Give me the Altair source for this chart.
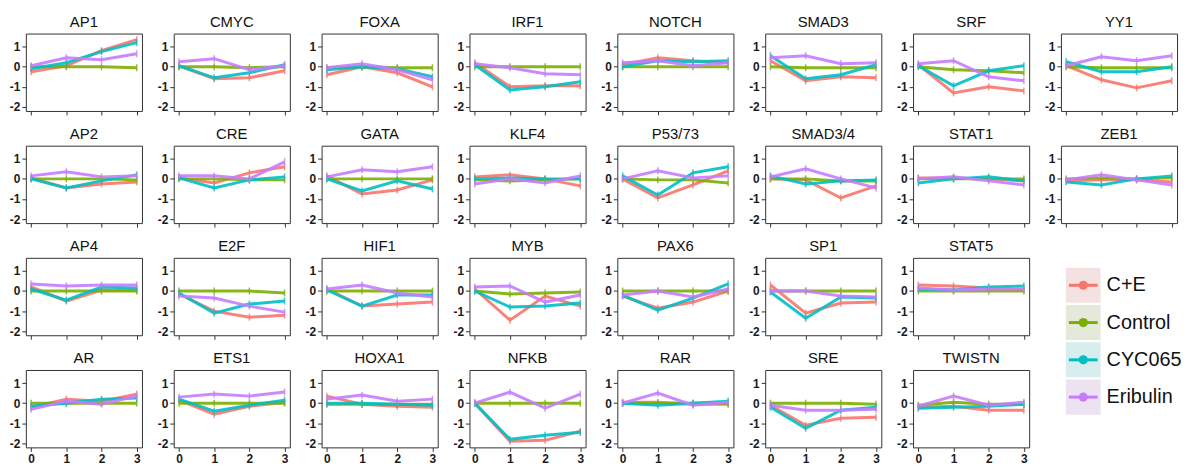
import altair as alt
import pandas as pd

TIMES = [0, 1, 2, 3]
TREATMENTS = ["C+E", "Control", "CYC065", "Eribulin"]
LINE_COLORS = ["#F8766D", "#7CAE00", "#00BFC4", "#C77CFF"]
KEY_FILLS = ["#f3e2e1", "#e5e9da", "#d8eded", "#ece2f2"]
Y_TICKS = [-2, -1, 0, 1]

GRID_COLUMNS = [
    ["AP1", "AP2", "AP4", "AR"],
    ["CMYC", "CRE", "E2F", "ETS1"],
    ["FOXA", "GATA", "HIF1", "HOXA1"],
    ["IRF1", "KLF4", "MYB", "NFKB"],
    ["NOTCH", "P53/73", "PAX6", "RAR"],
    ["SMAD3", "SMAD3/4", "SP1", "SRE"],
    ["SRF", "STAT1", "STAT5", "TWISTN"],
    ["YY1", "ZEB1"],
]

CE = {
    "AP1": [-0.25, 0.05, 0.8, 1.35], "CMYC": [0.05, -0.6, -0.55, -0.2],
    "FOXA": [-0.4, 0.0, -0.3, -1.0], "IRF1": [0.2, -1.0, -0.95, -0.95],
    "NOTCH": [0.1, 0.45, 0.3, 0.2], "SMAD3": [0.3, -0.7, -0.5, -0.55],
    "SRF": [0.1, -1.3, -1.0, -1.2], "YY1": [0.05, -0.65, -1.05, -0.7],
    "AP2": [0.05, -0.45, -0.25, -0.15], "CRE": [0.05, -0.2, 0.3, 0.6],
    "GATA": [0.15, -0.75, -0.55, -0.05], "KLF4": [0.1, 0.2, 0.0, -0.35],
    "P53/73": [0.0, -0.95, -0.3, 0.4], "SMAD3/4": [0.0, -0.05, -0.95, -0.35],
    "STAT1": [0.05, 0.05, 0.0, -0.1], "ZEB1": [-0.1, -0.05, -0.05, -0.15],
    "AP4": [0.2, -0.5, 0.05, 0.05], "E2F": [-0.15, -1.0, -1.3, -1.2],
    "HIF1": [0.1, -0.75, -0.65, -0.55], "MYB": [0.1, -1.45, -0.25, -0.75],
    "PAX6": [-0.25, -0.85, -0.55, 0.0], "SP1": [0.3, -1.1, -0.6, -0.55],
    "STAT5": [0.3, 0.25, 0.15, 0.05], "AR": [-0.2, 0.2, 0.1, 0.45],
    "ETS1": [0.15, -0.55, -0.15, 0.05], "HOXA1": [0.35, -0.05, -0.15, -0.2],
    "NFKB": [0.0, -1.9, -1.85, -1.4], "RAR": [0.05, 0.05, -0.05, -0.05],
    "SRE": [-0.1, -1.1, -0.75, -0.7], "TWISTN": [-0.2, -0.15, -0.35, -0.35],
}

CONTROL = {
    "AP1": [0.0, 0.0, 0.0, -0.05], "CMYC": [0.0, 0.0, -0.05, 0.0],
    "FOXA": [-0.05, 0.0, -0.05, -0.05], "IRF1": [0.0, 0.0, 0.0, 0.0],
    "NOTCH": [0.0, 0.0, 0.0, 0.0], "SMAD3": [0.0, -0.05, -0.05, -0.05],
    "SRF": [0.0, -0.15, -0.2, -0.3], "YY1": [0.0, -0.05, -0.05, -0.05],
    "AP2": [0.0, 0.0, 0.0, -0.05], "CRE": [0.0, 0.0, -0.05, -0.05],
    "GATA": [0.0, 0.0, 0.0, 0.0], "KLF4": [-0.05, -0.1, -0.05, 0.0],
    "P53/73": [0.0, -0.05, -0.05, -0.2], "SMAD3/4": [0.0, 0.0, -0.1, -0.1],
    "STAT1": [0.0, 0.0, 0.0, 0.0], "ZEB1": [0.0, 0.05, 0.0, 0.05],
    "AP4": [0.0, 0.0, 0.0, 0.0], "E2F": [0.0, 0.0, 0.0, -0.1],
    "HIF1": [0.0, 0.0, 0.0, 0.0], "MYB": [0.0, -0.15, -0.1, -0.05],
    "PAX6": [0.0, 0.0, 0.0, 0.0], "SP1": [0.0, 0.0, 0.0, 0.0],
    "STAT5": [0.0, 0.0, 0.0, 0.0], "AR": [0.0, 0.0, 0.0, 0.0],
    "ETS1": [0.0, 0.0, 0.0, 0.0], "HOXA1": [-0.05, -0.05, -0.05, -0.05],
    "NFKB": [0.0, 0.0, 0.0, 0.0], "RAR": [0.0, 0.0, 0.0, 0.0],
    "SRE": [0.0, 0.0, 0.0, -0.05], "TWISTN": [-0.1, 0.05, -0.05, -0.05],
}

CYC065 = {
    "AP1": [-0.1, 0.2, 0.75, 1.2], "CMYC": [0.05, -0.55, -0.3, 0.1],
    "FOXA": [-0.15, 0.0, -0.1, -0.5], "IRF1": [0.1, -1.15, -1.0, -0.75],
    "NOTCH": [0.0, 0.3, 0.25, 0.3], "SMAD3": [0.55, -0.6, -0.4, 0.1],
    "SRF": [0.05, -0.95, -0.2, 0.05], "YY1": [0.25, -0.25, -0.25, 0.0],
    "AP2": [0.0, -0.45, -0.1, 0.2], "CRE": [0.05, -0.45, -0.05, 0.1],
    "GATA": [0.0, -0.6, -0.1, -0.5], "KLF4": [0.0, 0.05, 0.0, 0.0],
    "P53/73": [0.15, -0.8, 0.3, 0.6], "SMAD3/4": [0.15, -0.25, -0.1, -0.05],
    "STAT1": [-0.2, 0.0, 0.1, -0.1], "ZEB1": [-0.15, -0.3, 0.0, 0.15],
    "AP4": [0.1, -0.45, 0.2, 0.15], "E2F": [-0.1, -1.1, -0.65, -0.5],
    "HIF1": [0.05, -0.75, -0.2, -0.2], "MYB": [0.0, -0.8, -0.75, -0.6],
    "PAX6": [-0.2, -0.95, -0.35, 0.35], "SP1": [-0.05, -1.35, -0.3, -0.35],
    "STAT5": [0.1, 0.05, 0.2, 0.25], "AR": [-0.15, 0.0, 0.2, 0.25],
    "ETS1": [0.2, -0.4, -0.1, 0.15], "HOXA1": [0.0, 0.0, -0.05, -0.1],
    "NFKB": [0.0, -1.8, -1.6, -1.45], "RAR": [0.0, -0.1, 0.0, 0.1],
    "SRE": [-0.2, -1.25, -0.35, -0.2], "TWISTN": [-0.25, -0.2, -0.15, -0.05],
}

ERIBULIN = {
    "AP1": [0.05, 0.45, 0.35, 0.65], "CMYC": [0.25, 0.4, -0.15, 0.05],
    "FOXA": [-0.05, 0.15, -0.15, -0.65], "IRF1": [0.15, -0.05, -0.35, -0.4],
    "NOTCH": [0.2, 0.3, 0.05, 0.2], "SMAD3": [0.45, 0.55, 0.15, 0.2],
    "SRF": [0.15, 0.3, -0.5, -0.7], "YY1": [0.05, 0.5, 0.3, 0.55],
    "AP2": [0.15, 0.35, 0.1, 0.15], "CRE": [0.15, 0.15, 0.0, 0.85],
    "GATA": [0.1, 0.45, 0.35, 0.6], "KLF4": [-0.25, 0.0, -0.2, 0.15],
    "P53/73": [0.0, 0.4, 0.05, 0.15], "SMAD3/4": [0.1, 0.5, 0.0, -0.45],
    "STAT1": [0.0, 0.1, -0.1, -0.3], "ZEB1": [-0.05, 0.2, -0.05, -0.3],
    "AP4": [0.35, 0.25, 0.3, 0.3], "E2F": [-0.25, -0.35, -0.75, -1.05],
    "HIF1": [0.1, 0.3, -0.1, -0.3], "MYB": [0.2, 0.25, -0.55, -0.2],
    "PAX6": [-0.2, 0.0, -0.3, 0.1], "SP1": [0.0, 0.0, -0.25, -0.3],
    "STAT5": [0.15, 0.05, 0.1, 0.1], "AR": [-0.3, 0.1, -0.05, 0.35],
    "ETS1": [0.3, 0.45, 0.35, 0.55], "HOXA1": [0.2, 0.4, 0.1, 0.2],
    "NFKB": [0.0, 0.55, -0.25, 0.45], "RAR": [0.0, 0.5, -0.1, 0.05],
    "SRE": [-0.1, -0.35, -0.35, -0.3], "TWISTN": [-0.15, 0.35, -0.1, 0.05],
}

SERIES = {"C+E": CE, "Control": CONTROL, "CYC065": CYC065, "Eribulin": ERIBULIN}

rows = []
for treatment in TREATMENTS:
    for tf, vals in SERIES[treatment].items():
        for t, v in zip(TIMES, vals):
            rows.append({"tf": tf, "treatment": treatment, "time": t, "value": v})
data = pd.DataFrame(rows)

FONT = "Liberation Sans"
W, H = 117, 78

color_enc = alt.Color("treatment:N", scale=alt.Scale(domain=TREATMENTS, range=LINE_COLORS), legend=None)


def panel(name, show_x_labels):
    base = alt.Chart(data).transform_filter(alt.datum.tf == name)
    x = alt.X("time:Q", scale=alt.Scale(domain=[-0.15, 3.15], nice=False, zero=False),
              axis=alt.Axis(values=TIMES, labels=show_x_labels, title=None, labelExpr="'' + datum.value"))
    y = alt.Y("value:Q", scale=alt.Scale(domain=[-2.2, 1.65], nice=False, zero=False),
              axis=alt.Axis(values=Y_TICKS, title=None, labelExpr="'' + datum.value"))
    line = base.mark_line(strokeWidth=3, opacity=0.9).encode(x=x, y=y, color=color_enc)
    ticks = base.mark_tick(orient="vertical", size=7, thickness=1.5, opacity=0.8).encode(x=x, y=y, color=color_enc)
    return alt.layer(line, ticks).properties(width=W, height=H, title=name)


legend_df = pd.DataFrame({"treatment": TREATMENTS})
ly = alt.Y("treatment:N", sort=TREATMENTS, axis=None,
           scale=alt.Scale(domain=TREATMENTS, range=[10, 158], paddingInner=0.06, paddingOuter=0))
lbase = alt.Chart(legend_df)
legend = alt.layer(
    lbase.mark_rect().encode(y=ly, x=alt.value(5), x2=alt.value(40),
                             fill=alt.Fill("treatment:N", scale=alt.Scale(domain=TREATMENTS, range=KEY_FILLS), legend=None)),
    lbase.mark_rule(strokeWidth=3).encode(y=ly, x=alt.value(8), x2=alt.value(37), color=color_enc),
    lbase.mark_point(filled=True, size=85, opacity=1).encode(y=ly, x=alt.value(22.5), color=color_enc),
    lbase.mark_text(align="left", baseline="middle", fontSize=20, font=FONT, color="#111111").encode(
        y=ly, x=alt.value(46), text="treatment:N"),
).properties(width=W, height=H, view=alt.ViewBackground(strokeOpacity=0))

# row-wise order for the wrapped grid
cells = []
for r in range(4):
    for c, col in enumerate(GRID_COLUMNS):
        if r < len(col):
            cells.append(panel(col[r], r == 3))
    if r == 2:
        cells.append(legend)

chart = alt.concat(*cells, columns=8, spacing={"row": 35, "column": 32}, bounds="flush").properties(
    padding={"left": 0, "top": 4, "right": 0, "bottom": 0}
).configure(font=FONT).configure_view(
    stroke="#333333", strokeWidth=1
).configure_axis(
    domain=False, grid=False, tickColor="#333333", tickSize=4, tickWidth=1,
    labelFont=FONT, labelFontSize=12, labelFontWeight="bold", labelColor="#1a1a1a", labelPadding=2
).configure_title(
    font=FONT, fontSize=15, fontWeight="normal", color="#111111", anchor="middle", offset=4
)

chart.save("out.html", embed_options={"renderer": "svg", "actions": False})
